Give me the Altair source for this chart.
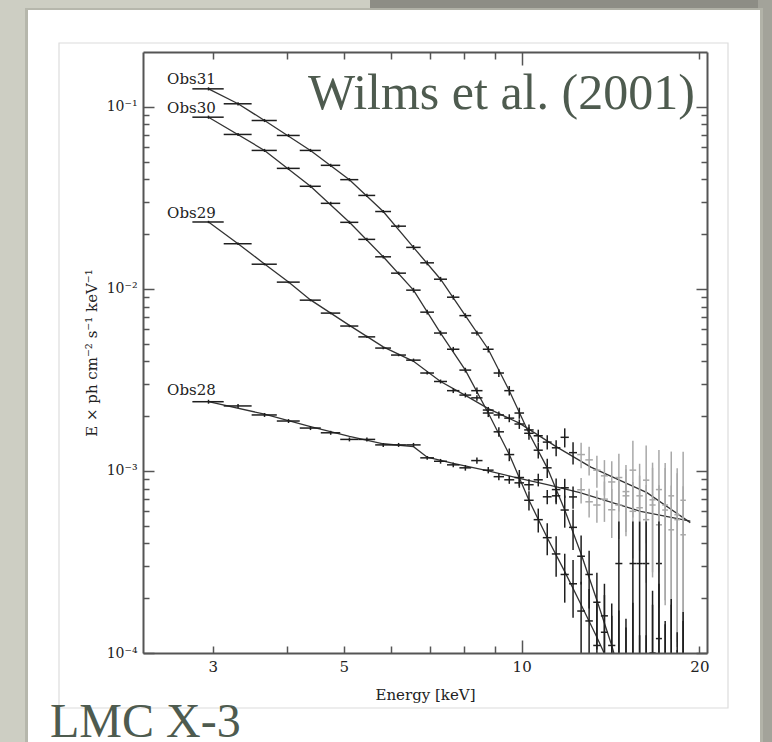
import altair as alt
import pandas as pd

# ---------------- data ----------------
energy_kev = [2.95, 3.31, 3.67, 4.03, 4.39, 4.75, 5.11, 5.47, 5.83, 6.19,
              6.56, 6.92, 7.29, 7.66, 8.03, 8.40, 8.78, 9.15, 9.53, 9.91,
              10.29, 10.67, 11.05, 11.44, 11.83, 12.22, 12.61, 13.01, 13.41, 13.81,
              14.21, 14.61, 15.02, 15.43, 15.84, 16.25, 16.66, 17.08, 17.50, 17.92,
              18.34, 18.77]
bin_half_width = [0.18, 0.18, 0.18, 0.18, 0.18, 0.18, 0.18, 0.18, 0.18, 0.18,
                  0.185, 0.185, 0.185, 0.185, 0.185, 0.185, 0.185, 0.185, 0.185, 0.185,
                  0.19, 0.19, 0.19, 0.19, 0.19, 0.19, 0.19, 0.19, 0.19, 0.19,
                  0.20, 0.20, 0.20, 0.20, 0.20, 0.20, 0.20, 0.20, 0.20, 0.20,
                  0.20, 0.20]

obs31_flux = [0.1255, 0.1039, 0.0841, 0.0696, 0.0576, 0.0477, 0.0398, 0.0326, 0.0266, 0.0221,
              0.0169, 0.0139, 0.0113, 0.0090, 0.00713, 0.00572, 0.00466, 0.00345, 0.00276, 0.00208,
              0.00161, 0.00130, 0.00104, 0.00079, 0.00061, 0.00049, 0.00034, 0.00027, 0.00019, 0.00016,
              0.00011, 0.00009, 0.00007, 0.00031, 0.00005, 0.00031, 0.00008, 0.00012, 0.00006, 0.00009,
              0.00005, 0.00007]
obs31_err = [0.02, 0.02, 0.02, 0.02, 0.02, 0.02, 0.02, 0.02, 0.02, 0.02,
             0.03, 0.03, 0.03, 0.03, 0.03, 0.03, 0.04, 0.05, 0.06, 0.07,
             0.08, 0.10, 0.12, 0.15, 0.20, 0.25, 0.30, 0.35, 0.45, 0.50,
             0.70, 0.90, 1.20, 0.70, 1.50, 0.70, 1.30, 1.00, 1.50, 1.20,
             1.60, 1.40]

obs30_flux = [0.0877, 0.0705, 0.0576, 0.0459, 0.0366, 0.0295, 0.0232, 0.0187, 0.0150, 0.0122,
              0.00984, 0.00745, 0.00572, 0.00466, 0.00358, 0.00276, 0.00208, 0.00164, 0.00123, 0.00092,
              0.00069, 0.00054, 0.00043, 0.00035, 0.00027, 0.00024, 0.00017, 0.00015, 0.00011, 0.00013,
              0.00008, 0.00031, 0.00006, 0.00009, 0.00031, 0.00005, 0.00010, 0.00031, 0.00006, 0.00008,
              0.00004, 0.00006]
obs30_err = [0.02, 0.02, 0.02, 0.02, 0.02, 0.02, 0.02, 0.02, 0.02, 0.02,
             0.03, 0.03, 0.03, 0.03, 0.03, 0.04, 0.05, 0.06, 0.08, 0.10,
             0.12, 0.15, 0.20, 0.25, 0.30, 0.35, 0.45, 0.50, 0.70, 0.60,
             1.00, 0.70, 1.30, 1.10, 0.70, 1.50, 1.20, 0.70, 1.40, 1.30,
             1.60, 1.50]

obs29_flux = [0.0233, 0.0177, 0.01366, 0.01089, 0.00867, 0.00736, 0.00625, 0.00545, 0.00473, 0.00433,
              0.00406, 0.00345, 0.00310, 0.00276, 0.00261, 0.00252, 0.00216, 0.00203, 0.00195, 0.00181,
              0.00168, 0.00156, 0.00144, 0.00134, 0.00153, 0.00126, 0.00123, 0.00115, 0.00101, 0.00094,
              0.00087, 0.00092, 0.00077, 0.00101, 0.00073, 0.00089, 0.00065, 0.00079, 0.00061, 0.00073,
              0.00054, 0.00069]
obs29_err = [0.015, 0.015, 0.015, 0.015, 0.015, 0.015, 0.015, 0.015, 0.015, 0.015,
             0.02, 0.02, 0.025, 0.03, 0.03, 0.035, 0.04, 0.045, 0.05, 0.06,
             0.07, 0.08, 0.09, 0.10, 0.12, 0.14, 0.16, 0.18, 0.20, 0.22,
             0.30, 0.35, 0.40, 0.45, 0.50, 0.55, 0.60, 0.65, 0.70, 0.75,
             0.80, 0.85]

obs28_flux = [0.00240, 0.002275, 0.00203, 0.00188, 0.00172, 0.00162, 0.00149, 0.00149, 0.00139, 0.00139,
              0.00139, 0.00118, 0.00113, 0.00108, 0.00104, 0.00114, 0.00101, 0.00093, 0.000894, 0.00086,
              0.00084, 0.000894, 0.000721, 0.00073, 0.000808, 0.00072, 0.000788, 0.000677, 0.00065, 0.00070,
              0.000612, 0.00065, 0.00073, 0.00060, 0.000628, 0.00054, 0.000694, 0.000506, 0.00065, 0.000475,
              0.000575, 0.000446]
obs28_err = [0.025, 0.025, 0.025, 0.025, 0.025, 0.025, 0.025, 0.025, 0.025, 0.025,
             0.025, 0.025, 0.03, 0.03, 0.035, 0.04, 0.04, 0.045, 0.05, 0.06,
             0.07, 0.08, 0.09, 0.10, 0.12, 0.14, 0.16, 0.18, 0.20, 0.25,
             0.30, 0.35, 0.40, 0.45, 0.50, 0.55, 0.60, 0.65, 0.70, 0.75,
             0.80, 0.85]

model31_e = [2.95, 3.31, 3.67, 4.39, 5.11, 5.83, 6.56, 7.29, 8.03, 8.78, 9.53, 10.29, 11.05, 11.83,
             12.61, 13.41, 14.21, 14.6]
model31_f = [0.1255, 0.1039, 0.0841, 0.0576, 0.0398, 0.0266, 0.0169, 0.0113, 0.00713, 0.00466,
             0.00276, 0.00161, 0.00104, 0.00061, 0.00035, 0.000195, 0.00011, 0.00008]
model30_e = [2.95, 3.67, 4.39, 5.11, 5.83, 6.56, 7.29, 8.03, 8.78, 9.53, 10.29, 11.05, 11.83, 12.61,
             13.41, 14.0]
model30_f = [0.0877, 0.0576, 0.0366, 0.0232, 0.0150, 0.00984, 0.00572, 0.00358, 0.00208, 0.00123,
             0.00069, 0.00043, 0.00028, 0.000184, 0.000122, 0.00009]
model29_e = [2.95, 3.31, 3.67, 4.03, 4.39, 5.11, 5.83, 6.56, 7.29, 8.03, 8.78, 9.91, 11.44, 13.1,
             16.3, 19.3]
model29_f = [0.0233, 0.0177, 0.0137, 0.0109, 0.0087, 0.0063, 0.0048, 0.0040, 0.0031, 0.0026, 0.0022,
             0.00183, 0.00136, 0.00105, 0.00076, 0.00052]
model28_e = [2.95, 3.67, 4.39, 5.11, 5.83, 6.56, 6.92, 7.66, 8.78, 9.91, 11.05, 12.55, 15.9, 19.3]
model28_f = [0.0024, 0.00205, 0.00175, 0.00155, 0.00141, 0.00136, 0.00119, 0.00110, 0.00100, 0.00091,
             0.00084, 0.00076, 0.0006, 0.00053]

label_names = ["Obs31", "Obs30", "Obs29", "Obs28"]
label_e = [2.51, 2.51, 2.51, 2.51]
label_f = [0.143, 0.0979, 0.0261, 0.00278]

x_label_values = [3, 5, 10, 20]
x_minor_ticks = [3, 4, 5, 6, 7, 8, 9, 20]
x_major_ticks = [10]
y_major_ticks = [0.1, 0.01, 0.001, 0.0001]
y_minor_ticks = [0.0002, 0.0003, 0.0004, 0.0005, 0.0006, 0.0007, 0.0008, 0.0009,
                 0.002, 0.003, 0.004, 0.005, 0.006, 0.007, 0.008, 0.009,
                 0.02, 0.03, 0.04, 0.05, 0.06, 0.07, 0.08, 0.09]

# ---------------- tables ----------------
rows = []
for name, flux, err in [("Obs28", obs28_flux, obs28_err), ("Obs29", obs29_flux, obs29_err),
                        ("Obs30", obs30_flux, obs30_err), ("Obs31", obs31_flux, obs31_err)]:
    for e, hw, f, r in zip(energy_kev, bin_half_width, flux, err):
        rows.append({"obs": name, "E": e, "E_lo": e - hw, "E_hi": e + hw, "F": f,
                     "F_lo": max(f * (1 - r), 1e-6), "F_hi": f * (1 + r)})
pts = pd.DataFrame(rows)

mrows = []
for name, me, mf in [("Obs28", model28_e, model28_f), ("Obs29", model29_e, model29_f),
                     ("Obs30", model30_e, model30_f), ("Obs31", model31_e, model31_f)]:
    for i, (e, f) in enumerate(zip(me, mf)):
        mrows.append({"obs": name, "E": e, "F": f, "i": i})
models = pd.DataFrame(mrows)

labels = pd.DataFrame({"name": label_names, "E": label_e, "F": label_f})

# ---------------- styling ----------------
W, H = 564, 601
FONT = "DejaVu Serif"
SLIDE_FONT = "Liberation Serif"
SLIDE_COLOR = "#4e5b4f"
AX = "#555555"

xs = alt.Scale(type="log", domain=[2.285, 20.6], nice=False)
ys = alt.Scale(type="log", domain=[0.0001, 0.2], nice=False)

blank = alt.Data(values=[{}])


def deco_rect(x0, x1, y0, y1, **kw):
    return alt.Chart(blank).mark_rect(**kw).encode(
        x=alt.value(x0), x2=alt.value(x1), y=alt.value(y0), y2=alt.value(y1))


# slide background pieces (relative to the plot origin)
bg_top_dark = deco_rect(227, 629, -52, -38, color="#8d8d85")
bg_right = deco_rect(615, 629, -52, 690, color="#a3a39a")
card_shadow = deco_rect(-118, 620, -44, 700, color="#b4b5aa", opacity=0.9)
card = deco_rect(-115, 617, -42, 700, color="#ffffff")
inner_border = deco_rect(-84, 585, -9, 656, fill=None, filled=False, stroke="#dcdcdc", strokeWidth=1.2)

# data marks
model_lines = alt.Chart(models).mark_line(clip=True, color="#333333", strokeWidth=1.3).encode(
    x=alt.X("E:Q", scale=xs, axis=None),
    y=alt.Y("F:Q", scale=ys, axis=None),
    detail="obs:N",
    order="i:Q",
)

bar_color = alt.condition(
    "datum.E > 12.4 && (datum.obs == 'Obs28' || datum.obs == 'Obs29')",
    alt.value("#a8a8a8"), alt.value("#1e1e1e"))

h_bars = alt.Chart(pts).mark_rule(clip=True, strokeWidth=1.5).encode(
    x=alt.X("E_lo:Q", scale=xs, axis=None), x2="E_hi:Q",
    y=alt.Y("F:Q", scale=ys, axis=None),
    color=bar_color,
)
v_bars = alt.Chart(pts).mark_rule(clip=True, strokeWidth=1.5).encode(
    x=alt.X("E:Q", scale=xs, axis=None),
    y=alt.Y("F_lo:Q", scale=ys, axis=None), y2="F_hi:Q",
    color=bar_color,
)

obs_text = alt.Chart(labels).mark_text(align="left", baseline="middle", font=FONT, fontSize=15,
                                       color="#222222").encode(
    x=alt.X("E:Q", scale=xs, axis=None),
    y=alt.Y("F:Q", scale=ys, axis=None),
    text="name:N",
)

# axes layers (inward ticks via negative offsets)
tick_common = dict(labels=False, domain=False, grid=False, title=None, tickColor=AX,
                   tickWidth=1.5, zindex=2)


def axis_layer(xaxis, yaxis):
    return alt.Chart(pts).mark_point(opacity=0).encode(
        x=alt.X("E:Q", scale=xs, axis=xaxis),
        y=alt.Y("F:Q", scale=ys, axis=yaxis),
    )


y_label_expr = ("datum.value > 0.05 ? '10⁻¹' : datum.value > 0.005 ? '10⁻²' : "
                "datum.value > 0.0005 ? '10⁻³' : '10⁻⁴'")

ax_labels = axis_layer(
    alt.Axis(orient="bottom", values=x_label_values, ticks=False, tickSize=0, labelPadding=18,
             labelBaseline="alphabetic", labelFont=FONT, labelFontSize=15, labelColor="#222222",
             labelExpr="format(datum.value, 'd')", labelOverlap=False, labelFlush=False,
             domain=True, domainColor=AX, domainWidth=2, grid=False,
             title="Energy [keV]", titleFont=FONT, titleFontSize=15, titleFontWeight="normal",
             titleColor="#222222", titleX=W / 2, titleY=46, titleBaseline="alphabetic",
             titleAlign="center", zindex=2),
    alt.Axis(orient="left", values=y_major_ticks, ticks=False, tickSize=0, labelPadding=6,
             labelBaseline="middle", labelFont=FONT, labelFontSize=14, labelColor="#222222",
             labelExpr=y_label_expr, labelOverlap=False, labelFlush=False,
             domain=True, domainColor=AX, domainWidth=2, grid=False,
             title="E × ph cm⁻² s⁻¹ keV⁻¹", titleFont=FONT, titleFontSize=15,
             titleFontWeight="normal", titleColor="#222222", titleX=-52, titleY=H / 2,
             titleAngle=270, titleAlign="center", titleBaseline="middle", zindex=2),
)
ax_minor_bl = axis_layer(
    alt.Axis(orient="bottom", values=x_minor_ticks, tickSize=7, offset=-7, **tick_common),
    alt.Axis(orient="left", values=y_minor_ticks, tickSize=6, offset=-6, **tick_common),
)
ax_major_bl = axis_layer(
    alt.Axis(orient="bottom", values=x_major_ticks, tickSize=13, offset=-13, **tick_common),
    alt.Axis(orient="left", values=y_major_ticks, tickSize=11, offset=-11, **tick_common),
)
ax_minor_tr = axis_layer(
    alt.Axis(orient="top", values=x_minor_ticks, tickSize=7, offset=-7, **tick_common),
    alt.Axis(orient="right", values=y_minor_ticks, tickSize=6, offset=-6, **tick_common),
)
ax_major_tr = axis_layer(
    alt.Axis(orient="top", values=x_major_ticks, tickSize=13, offset=-13, **tick_common),
    alt.Axis(orient="right", values=y_major_ticks, tickSize=11, offset=-11, **tick_common),
)
ax_frame_tr = axis_layer(
    alt.Axis(orient="top", values=[10], ticks=False, labels=False, domain=True, domainColor=AX,
             domainWidth=2, grid=False, title=None, zindex=2),
    alt.Axis(orient="right", values=[0.01], ticks=False, labels=False, domain=True, domainColor=AX,
             domainWidth=2, grid=False, title=None, zindex=2),
)

wilms = alt.Chart(blank).mark_text(align="left", baseline="alphabetic", font=SLIDE_FONT,
                                   fontSize=50, color=SLIDE_COLOR).encode(
    x=alt.value(165), y=alt.value(57), text=alt.value("Wilms et al. (2001)"))
lmc = alt.Chart(blank).mark_text(align="left", baseline="alphabetic", font=SLIDE_FONT,
                                 fontSize=48, color=SLIDE_COLOR).encode(
    x=alt.value(-93), y=alt.value(685), text=alt.value("LMC X-3"))

chart = alt.layer(
    bg_top_dark, bg_right, card_shadow, card, inner_border,
    model_lines, h_bars, v_bars, obs_text,
    ax_labels, ax_minor_bl, ax_major_bl, ax_minor_tr, ax_major_tr, ax_frame_tr,
    wilms, lmc,
).resolve_axis(x="independent", y="independent").properties(
    width=W, height=H,
    autosize=alt.AutoSizeParams(type="none"),
    padding={"left": 143, "top": 52, "right": 65, "bottom": 89},
).configure(background="#cdcec3").configure_view(stroke=None)

chart.save("out.html", embed_options={"renderer": "svg", "actions": False})
